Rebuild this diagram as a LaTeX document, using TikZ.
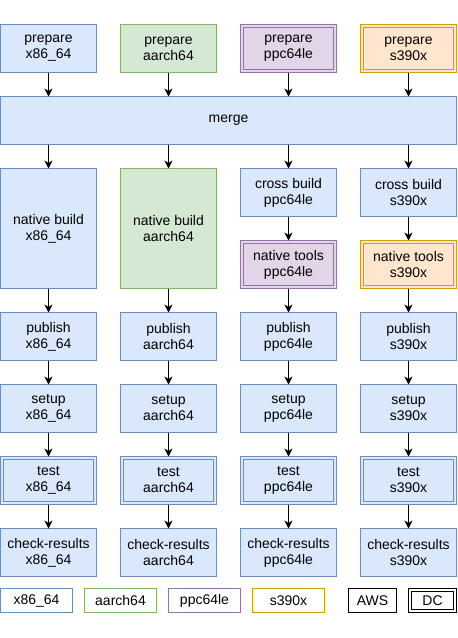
\documentclass[tikz,border=0pt]{standalone}
\usepackage{fontspec}
\setmainfont{Liberation Sans}
\usetikzlibrary{arrows.meta,positioning}

\definecolor{bluefill}{HTML}{DAE8FC}
\definecolor{bluedraw}{HTML}{6C8EBF}
\definecolor{greenfill}{HTML}{D5E8D4}
\definecolor{greendraw}{HTML}{82B366}
\definecolor{purplefill}{HTML}{E1D5E7}
\definecolor{purpledraw}{HTML}{9673A6}
\definecolor{orangefill}{HTML}{FFE6CC}
\definecolor{orangedraw}{HTML}{D79B00}

\begin{document}
\begin{tikzpicture}[
    box/.style={draw, line width=1pt, minimum width=96pt, minimum height=48pt,
        inner sep=0pt, outer sep=0pt, align=center,
        font=\fontsize{14}{16}\selectfont},
    blue box/.style={box, draw=bluedraw, fill=bluefill},
    green box/.style={box, draw=greendraw, fill=greenfill},
    purple box/.style={box, draw=purpledraw, fill=purplefill},
    orange box/.style={box, draw=orangedraw, fill=orangefill},
    dbl/.style={double=#1, double distance=2pt, minimum width=93pt,
        minimum height=45pt, outer sep=1.5pt},
    key/.style={box, fill=white, minimum width=72pt, minimum height=24pt},
    arr/.style={-{Stealth[length=8pt,width=8pt,inset=2.5pt]}, line width=1pt},
]
\useasboundingbox (0,0) rectangle (458pt,-638pt);

% prepare row
\node[blue box] (prep-x) at (48.5pt,-48.5pt) {prepare\\x86\_64};
\node[green box, right=24pt of prep-x] (prep-a) {prepare\\aarch64};
\node[purple box, dbl=purplefill, right=24pt of prep-a] (prep-p) {prepare\\ppc64le};
\node[orange box, dbl=orangefill, right=24pt of prep-p] (prep-s) {prepare\\s390x};

\node[blue box, minimum width=456pt, below=24pt of prep-x.south west,
    anchor=north west] (merge) {merge};

% build row
\node[blue box, minimum height=120pt, below=24pt of merge.south west,
    anchor=north west] (build-x) {native build\\x86\_64};
\node[green box, minimum height=120pt, right=24pt of build-x] (build-a) {native build\\aarch64};
\node[blue box, right=24pt of build-a.north east, anchor=north west] (cross-p) {cross build\\ppc64le};
\node[blue box, right=24pt of cross-p] (cross-s) {cross build\\s390x};
\node[purple box, dbl=purplefill, below=24pt of cross-p] (tools-p) {native tools\\ppc64le};
\node[orange box, dbl=orangefill, below=24pt of cross-s] (tools-s) {native tools\\s390x};

\foreach \c/\top in {x/build-x, a/build-a, p/cross-p, s/cross-s} {
    \draw[arr] (prep-\c) -- (prep-\c |- merge.north);
    \draw[arr] (merge.south -| \top) -- (\top);
}
\draw[arr] (cross-p) -- (tools-p);
\draw[arr] (cross-s) -- (tools-s);

% the rest of each column
\foreach \c/\top/\arch in {x/build-x/x86\_64, a/build-a/aarch64,
        p/tools-p/ppc64le, s/tools-s/s390x} {
    \node[blue box, below=24pt of \top] (pub-\c) {publish\\\arch};
    \node[blue box, below=24pt of pub-\c] (setup-\c) {setup\\\arch};
    \node[blue box, dbl=bluefill, below=24pt of setup-\c] (test-\c) {test\\\arch};
    \node[blue box, below=24pt of test-\c] (check-\c) {check-results\\\arch};
    \draw[arr] (\top) -- (pub-\c);
    \draw[arr] (pub-\c) -- (setup-\c);
    \draw[arr] (setup-\c) -- (test-\c);
    \draw[arr] (test-\c) -- (check-\c);
}

% legend
\node[key, draw=bluedraw, below=12pt of check-x.south west, anchor=north west] (key-x) {x86\_64};
\node[key, draw=greendraw, right=12pt of key-x] (key-a) {aarch64};
\node[key, draw=purpledraw, right=12pt of key-a] (key-p) {ppc64le};
\node[key, draw=orangedraw, right=12pt of key-p] (key-s) {s390x};
\node[key, minimum width=48pt, right=24pt of key-s] (key-aws) {AWS};
\node[key, dbl=white, minimum width=45pt, minimum height=21pt,
    right=12pt of key-aws] (key-dc) {DC};
\end{tikzpicture}
\end{document}
